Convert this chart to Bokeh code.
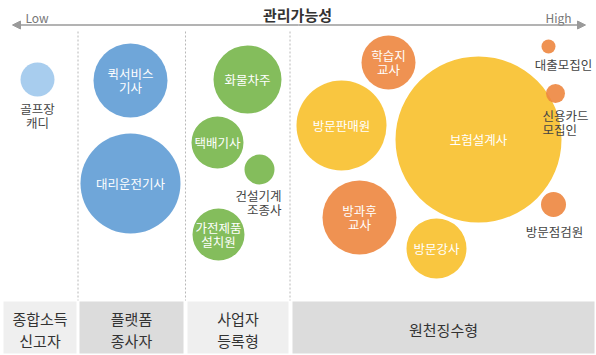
from bokeh.plotting import figure
from bokeh.models import Range1d, ColumnDataSource, Arrow, NormalHead
from bokeh.core.properties import value
from bokeh.embed import file_html
from bokeh.resources import INLINE

FONT = "Noto Sans CJK KR"

# ---- data ----
title = "관리가능성"
low_label = "Low"
high_label = "High"

groups = ["종합소득\n신고자", "플랫폼\n종사자", "사업자\n등록형", "원천징수형"]
group_start = [3, 79, 187, 292]
group_end = [76, 183, 288, 594]

names = ["골프장\n캐디", "퀵서비스\n기사", "대리운전기사", "화물차주", "택배기사",
         "건설기계\n조종사", "가전제품\n설치원", "학습지\n교사", "방문판매원", "보험설계사",
         "방과후\n교사", "방문강사", "대출모집인", "신용카드\n모집인", "방문점검원"]
manageability = [37, 130, 130, 247, 217, 259, 218, 388, 341, 478, 359, 436, 548, 555, 553]
row_pos = [79, 80, 183, 79, 142, 169, 234, 62, 125, 139, 217, 248, 46, 93, 204]
bubble_size = [17, 37, 50, 34, 26, 15, 26, 27, 45, 83, 37, 30, 7, 9.5, 12.5]
kind = ["light", "blue", "blue", "green", "green", "green", "green", "orange", "yellow",
        "yellow", "orange", "yellow", "orange", "orange", "orange"]

# ---- styles ----
palette = {"light": "#9ec8ec", "blue": "#5f9cd5", "green": "#77b64a",
           "yellow": "#f8c02b", "orange": "#ed863f"}
# outside labels: name -> (x, y of block centre, align)
outside = {
    "골프장\n캐디": (37, 115, "center"),
    "건설기계\n조종사": (281, 202, "right"),
    "대출모집인": (563, 64, "center"),
    "신용카드\n모집인": (542, 122, "left"),
    "방문점검원": (554, 231, "center"),
}


def split_lines(labels, xs, ys, aligns, spacing):
    ox, oy, ot, oa = [], [], [], []
    for t, x, y, a in zip(labels, xs, ys, aligns):
        parts = t.split("\n")
        n = len(parts)
        for i, part in enumerate(parts):
            ox.append(x)
            oy.append(y + (i - (n - 1) / 2) * spacing)
            ot.append(part)
            oa.append(a)
    return ox, oy, ot, oa


p = figure(width=596, height=355, x_range=Range1d(0, 596), y_range=Range1d(355, 0),
           output_backend="svg", toolbar_location=None, min_border=0)
p.axis.visible = False
p.grid.visible = False
p.outline_line_color = None
p.background_fill_color = "white"

# bottom boxes
box_colors = ["#efefef", "#dcdcdc", "#efefef", "#dcdcdc"]
p.quad(left=group_start, right=group_end, top=[301] * 4, bottom=[353] * 4,
       fill_color=box_colors, line_color=None)
gx = [(a + b) / 2 for a, b in zip(group_start, group_end)]
bx, by, bt, ba = split_lines(groups, gx, [329] * 4, ["center"] * 4, 22)
p.text(x=bx, y=by, text=bt, text_align="center", text_baseline="middle",
       text_font=value(FONT), text_font_size="15px", text_color="#333333")

# dotted separators
for xs in [77.5, 185, 289.5]:
    p.segment(x0=[xs], y0=[31], x1=[xs], y1=[300], line_color="#b8b8b8",
              line_dash="2 2", line_width=1)

# top arrow
p.add_layout(Arrow(end=NormalHead(size=8, fill_color="#9a9a9a", line_color="#9a9a9a"),
                   x_start=298, y_start=24.5, x_end=12, y_end=24.5,
                   line_color="#9a9a9a", line_width=1.5))
p.add_layout(Arrow(end=NormalHead(size=8, fill_color="#9a9a9a", line_color="#9a9a9a"),
                   x_start=298, y_start=24.5, x_end=585, y_end=24.5,
                   line_color="#9a9a9a", line_width=1.5))
p.text(x=[297], y=[14], text=[title], text_align="center", text_baseline="middle",
       text_font=value(FONT), text_font_size="15px", text_font_style="bold",
       text_color="#333333")
p.text(x=[25, 571], y=[17, 17], text=[low_label, high_label], text_align=["left", "right"],
       text_baseline="middle", text_font=value(FONT), text_font_size="12px",
       text_color="#777777")

# bubbles
src = ColumnDataSource(dict(x=manageability, y=row_pos, r=bubble_size,
                            c=[palette[k] for k in kind]))
p.circle(x="x", y="y", radius="r", fill_color="c", fill_alpha=0.9, line_color=None,
         source=src)

# labels
in_n, in_x, in_y = [], [], []
out_n, out_x, out_y, out_a = [], [], [], []
for n, x, y in zip(names, manageability, row_pos):
    if n in outside:
        ox, oy, al = outside[n]
        out_n.append(n); out_x.append(ox); out_y.append(oy); out_a.append(al)
    else:
        in_n.append(n); in_x.append(x); in_y.append(y)

ix, iy, it, ia = split_lines(in_n, in_x, in_y, ["center"] * len(in_n), 14.5)
p.text(x=ix, y=iy, text=it, text_align="center", text_baseline="middle",
       text_font=value(FONT), text_font_size="12.5px", text_color="white")
ox_, oy_, ot_, oa_ = split_lines(out_n, out_x, out_y, out_a, 14.5)
p.text(x=ox_, y=oy_, text=ot_, text_align=oa_, text_baseline="middle",
       text_font=value(FONT), text_font_size="12.5px", text_color="#444444")

open("out.html", "w").write(file_html(p, INLINE))
